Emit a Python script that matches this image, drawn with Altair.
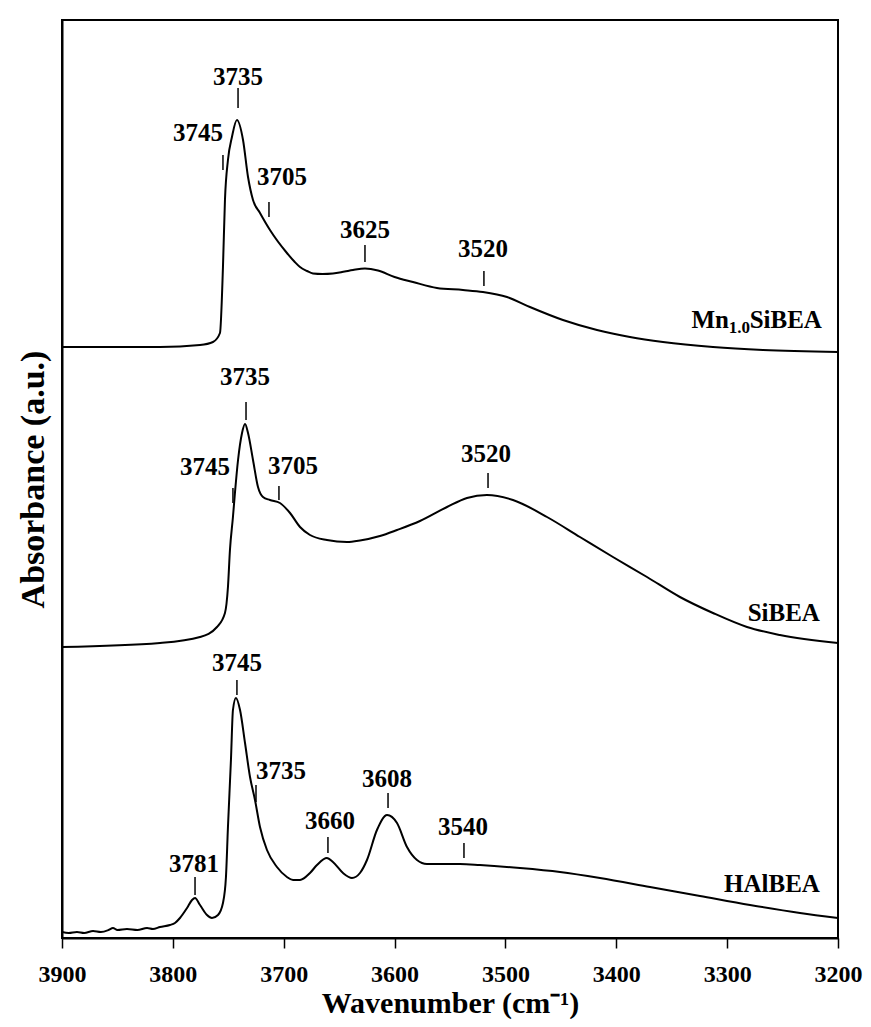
import altair as alt
import pandas as pd

# ---------------- data ----------------
series_names = ["Mn1.0SiBEA", "SiBEA", "HAlBEA"]

wn_mn = [3900, 3811.6, 3775.5, 3763.8, 3757.5, 3754.8, 3753.0, 3750.3, 3746.7, 3742.2,
         3736.7, 3732.2, 3727.7, 3721.4, 3712.4, 3697.1, 3690.0, 3685.3, 3679.0, 3673.6,
         3665.0, 3655.6, 3645.0, 3637.5, 3626.7, 3615.0, 3600.0, 3583.4, 3561.8, 3538.3,
         3520.3, 3498.6, 3477.9, 3448.1, 3417.4, 3387.7, 3357.9, 3312.8, 3267.7, 3200]
ab_mn = [5.91, 5.91, 5.93, 5.96, 6.05, 6.71, 7.38, 7.78, 8.01, 8.18,
         7.98, 7.61, 7.38, 7.25, 7.08, 6.85, 6.76, 6.71, 6.67, 6.645,
         6.64, 6.645, 6.665, 6.68, 6.695, 6.675, 6.61, 6.56, 6.50, 6.48,
         6.46, 6.41, 6.31, 6.18, 6.08, 6.01, 5.96, 5.91, 5.88, 5.86]

wn_si = [3900, 3811.6, 3775.5, 3760.2, 3753.0, 3750.3, 3748.5, 3745.8, 3744.0, 3741.2,
         3737.6, 3734.9, 3732.2, 3727.7, 3723.2, 3718.7, 3712.4, 3703.4, 3694.3, 3685.3,
         3676.3, 3661.0, 3642.9, 3631.2, 3613.2, 3597.8, 3577.1, 3552.7, 3534.7, 3516.7,
         3493.2, 3462.5, 3432.8, 3403.0, 3372.3, 3342.6, 3312.8, 3282.1, 3252.4, 3200]
ab_si = [2.91, 2.95, 3.01, 3.11, 3.25, 3.51, 3.88, 4.21, 4.45, 4.78,
         5.05, 5.14, 5.05, 4.78, 4.51, 4.41, 4.38, 4.35, 4.25, 4.11,
         4.03, 3.98, 3.96, 3.975, 4.02, 4.08, 4.17, 4.31, 4.40, 4.43,
         4.38, 4.21, 4.01, 3.81, 3.61, 3.41, 3.25, 3.11, 3.03, 2.95]

wn_h = [3900, 3894, 3886.5, 3880, 3872.0, 3865, 3858, 3854.0, 3850, 3841.4,
        3832, 3823.3, 3818, 3811.6, 3802.6, 3798.1, 3793.6, 3787.2, 3782.7, 3780.0,
        3775.5, 3769.2, 3764.7, 3759.3, 3754.8, 3752.1, 3750.3, 3747.6, 3745.8, 3743.1,
        3739.4, 3734.9, 3730.4, 3725.9, 3721.4, 3715.1, 3706.1, 3697.1, 3691.6, 3685.3,
        3676.3, 3670.0, 3661.0, 3655.6, 3646.5, 3638.4, 3631.2, 3624.9, 3615.9, 3606.8,
        3597.8, 3588.8, 3579.8, 3570.8, 3556.3, 3541.0, 3523.0, 3486.9, 3450.8, 3414.7,
        3369.6, 3324.5, 3279.4, 3234.3, 3200]
ab_h = [0.06, 0.05, 0.06, 0.05, 0.07, 0.06, 0.08, 0.10, 0.08, 0.09,
        0.08, 0.10, 0.09, 0.11, 0.13, 0.15, 0.20, 0.30, 0.38, 0.40,
        0.33, 0.23, 0.20, 0.23, 0.35, 0.61, 1.11, 1.78, 2.28, 2.40,
        2.28, 1.95, 1.61, 1.38, 1.11, 0.88, 0.71, 0.61, 0.58, 0.58,
        0.65, 0.73, 0.80, 0.76, 0.65, 0.60, 0.65, 0.78, 1.08, 1.23,
        1.15, 0.91, 0.78, 0.74, 0.74, 0.74, 0.73, 0.70, 0.66, 0.60,
        0.51, 0.42, 0.33, 0.25, 0.20]

# peak annotations: text, label position, tick position
peak_text = ["3735", "3745", "3705", "3625", "3520",
             "3735", "3745", "3705", "3520",
             "3745", "3735", "3781", "3660", "3608", "3540"]
peak_label_wn = [3741.2, 3777.3, 3701.6, 3626.7, 3520.3,
                 3734.9, 3771.0, 3691.6, 3517.6,
                 3742.2, 3702.5, 3780.9, 3658.3, 3606.8, 3538.3]
peak_label_ab = [8.61, 8.05, 7.61, 7.08, 6.89,
                 5.61, 4.71, 4.72, 4.84,
                 2.75, 1.67, 0.74, 1.17, 1.59, 1.11]
peak_tick_wn = [3741.2, 3754.8, 3713.3, 3626.7, 3519.4,
                3734.0, 3745.8, 3704.3, 3515.7,
                3742.2, 3725.0, 3780.0, 3660.1, 3605.9, 3537.4]
peak_tick_top = [8.50, 7.83, 7.36, 6.93, 6.67,
                 5.36, 4.50, 4.52, 4.65,
                 2.58, 1.53, 0.61, 1.01, 1.45, 0.95]
peak_tick_bottom = [8.30, 7.68, 7.21, 6.76, 6.52,
                    5.18, 4.35, 4.38, 4.50,
                    2.43, 1.36, 0.43, 0.85, 1.30, 0.80]

# series name anchors (right end of text)
name_wn = [3214.5, 3216.3, 3216.3]
name_ab = [6.10, 3.17, 0.46]

x_ticks = [3900, 3800, 3700, 3600, 3500, 3400, 3300, 3200]

# ---------------- tables ----------------
spectra = pd.concat([
    pd.DataFrame({"wn": wn_mn, "ab": ab_mn, "series": series_names[0]}),
    pd.DataFrame({"wn": wn_si, "ab": ab_si, "series": series_names[1]}),
    pd.DataFrame({"wn": wn_h, "ab": ab_h, "series": series_names[2]}),
], ignore_index=True)

peaks = pd.DataFrame({
    "text": peak_text, "lwn": peak_label_wn, "lab": peak_label_ab,
    "wn": peak_tick_wn, "ab": peak_tick_top, "ab2": peak_tick_bottom,
})

names = pd.DataFrame({"name": series_names, "wn": name_wn, "ab": name_ab})

FONT = "Liberation Serif"

x_scale = alt.Scale(domain=[3200, 3900], reverse=True, nice=False, zero=False)
y_scale = alt.Scale(domain=[0, 9.18], nice=False, zero=False)

x_axis = alt.Axis(values=x_ticks, format="d", title="Wavenumber (cm⁻¹)",
                  grid=False, tickSize=10, labelPadding=14, titlePadding=2,
                  titleFontSize=30, labelFlush=False, labelOverlap=False)
y_axis = alt.Axis(title="Absorbance  (a.u.)", labels=False, ticks=False,
                  grid=False, titlePadding=12, titleFontSize=34)

X = alt.X("wn:Q", scale=x_scale, axis=x_axis)
Y = alt.Y("ab:Q", scale=y_scale, axis=y_axis)

lines = alt.Chart(spectra).mark_line(
    color="black", strokeWidth=2, interpolate="monotone", clip=True
).encode(
    x=X, y=Y, detail="series:N",
    order=alt.Order("wn:Q", sort="descending"),
)

ticks = alt.Chart(peaks).mark_rule(color="black", strokeWidth=1.5).encode(
    x=X, y=Y, y2="ab2:Q"
)

labels = alt.Chart(peaks).mark_text(
    font=FONT, fontSize=25, fontWeight="bold", color="black",
    align="center", baseline="middle"
).encode(
    x=alt.X("lwn:Q", scale=x_scale, axis=x_axis),
    y=alt.Y("lab:Q", scale=y_scale, axis=y_axis),
    text="text:N",
)

plain_names = names[names["name"] != series_names[0]]
mn_row = names[names["name"] == series_names[0]]

name_text = alt.Chart(plain_names).mark_text(
    font=FONT, fontSize=25, fontWeight="bold", color="black",
    align="right", baseline="alphabetic"
).encode(x=X, y=Y, text="name:N")

# Mn1.0SiBEA drawn as "Mn" + subscript "1.0" + "SiBEA"
mn_part3 = alt.Chart(mn_row).transform_calculate(t="'SiBEA'").mark_text(
    font=FONT, fontSize=25, fontWeight="bold", color="black",
    align="right", baseline="alphabetic"
).encode(x=X, y=Y, text="t:N")
mn_part2 = alt.Chart(mn_row).transform_calculate(t="'1.0'").mark_text(
    font=FONT, fontSize=17, fontWeight="bold", color="black",
    align="right", baseline="alphabetic", dx=-72, dy=5
).encode(x=X, y=Y, text="t:N")
mn_part1 = alt.Chart(mn_row).transform_calculate(t="'Mn'").mark_text(
    font=FONT, fontSize=25, fontWeight="bold", color="black",
    align="right", baseline="alphabetic", dx=-93
).encode(x=X, y=Y, text="t:N")

chart = alt.layer(
    lines, ticks, labels, name_text, mn_part1, mn_part2, mn_part3
).properties(
    width=776, height=918,
    padding={"left": 54, "top": 12, "right": 25, "bottom": 81},
    autosize="none",
).configure_view(
    stroke="black", strokeWidth=2
).configure_axis(
    domainColor="black", domainWidth=2,
    tickColor="black", tickWidth=1.5,
    labelFont=FONT, labelFontSize=24, labelFontWeight="bold", labelColor="black",
    titleFont=FONT, titleFontWeight="bold", titleColor="black",
)

chart.save("out.html", embed_options={"renderer": "svg", "actions": False})
